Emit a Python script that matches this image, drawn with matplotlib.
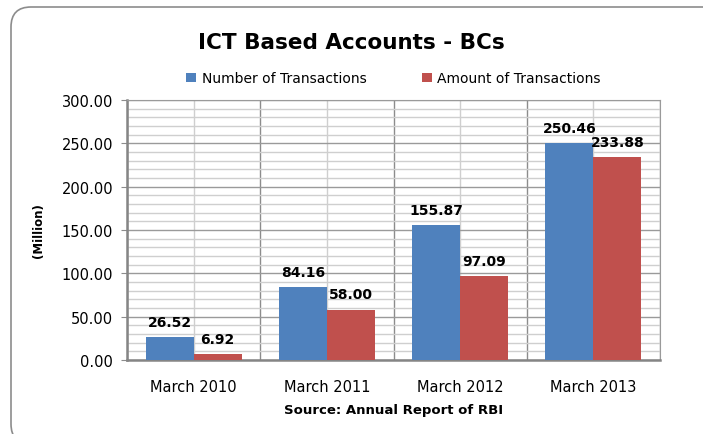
import numpy as np
import matplotlib.pyplot as plt
from matplotlib.patches import FancyBboxPatch

# chart data
categories = ['March 2010', 'March 2011', 'March 2012', 'March 2013']
num_transactions = [26.52, 84.16, 155.87, 250.46]
amt_transactions = [6.92, 58.00, 97.09, 233.88]
y_ticks = [0, 50, 100, 150, 200, 250, 300]

blue = '#4F81BD'
red = '#C0504D'
font = 'DejaVu Sans'

fig = plt.figure(figsize=(7.03, 4.35), dpi=100)
ax = fig.add_axes([0.1807, 0.1701, 0.7581, 0.5977])

x = np.arange(len(categories))
w = 0.36
b1 = ax.bar(x - w / 2, num_transactions, w, color=blue, label='Number of Transactions', zorder=3)
b2 = ax.bar(x + w / 2, amt_transactions, w, color=red, label='Amount of Transactions', zorder=3)

for bars, vals in ((b1, num_transactions), (b2, amt_transactions)):
    for r, v in zip(bars, vals):
        ax.annotate('%.2f' % v, (r.get_x() + r.get_width() / 2, v), xytext=(0, 6),
                    textcoords='offset points', ha='center', va='bottom',
                    fontsize=10, fontweight='bold', family=font, zorder=4)

ax.set_xlim(-0.5, 3.5)
ax.set_ylim(0, 300)
ax.set_yticks(y_ticks)
ax.set_yticks(np.arange(0, 301, 10), minor=True)
ax.set_yticklabels(['%.2f' % v for v in y_ticks], fontsize=10.5, family=font)
ax.set_xticks(x)
ax.set_xticks(np.arange(-0.5, 4.0, 1.0), minor=True)
ax.set_xticklabels(categories, fontsize=10.5, family=font)

# grid: dark at 50s and category edges, light at 10s and centres
ax.grid(True, which='minor', axis='y', color='#cfcfcf', lw=1, zorder=0)
ax.grid(True, which='major', axis='y', color='#9a9a9a', lw=1, zorder=1)
ax.grid(True, which='major', axis='x', color='#cfcfcf', lw=1, zorder=0)
ax.grid(True, which='minor', axis='x', color='#8c8c8c', lw=1, zorder=1)
ax.tick_params(axis='x', which='both', length=0, pad=14)
ax.tick_params(axis='y', which='minor', length=0)
ax.tick_params(axis='y', which='major', length=4, color='#8c8c8c', pad=6)
for s in ['left', 'bottom']:
    ax.spines[s].set_color('#858585')
    ax.spines[s].set_linewidth(1.8)
for s in ['top', 'right']:
    ax.spines[s].set_color('#9a9a9a')

ax.set_ylabel('(Million)', fontsize=8.5, fontweight='bold', family=font, labelpad=12)
ax.set_xlabel('Source: Annual Report of RBI', fontsize=9.5, fontweight='bold', family=font, labelpad=6)

fig.text(0.5, 0.902, 'ICT Based Accounts - BCs', ha='center', va='center',
         fontsize=15.5, fontweight='bold', family=font)
ax.legend(loc='lower center', bbox_to_anchor=(0.5, 1.035), ncol=2, frameon=False,
          prop={'family': font, 'size': 10}, handlelength=0.7, handleheight=0.7,
          columnspacing=4, handletextpad=0.4, borderaxespad=0)

# outer rounded frame, running off the right and bottom edges
border = FancyBboxPatch((0.11, -0.10), 7.12, 4.37, boxstyle='round,pad=0,rounding_size=0.2',
                        transform=fig.dpi_scale_trans, fill=False, edgecolor='#8c8c8c',
                        lw=1.2, clip_on=False)
fig.patches.append(border)

fig.savefig('out.png', dpi=100)
